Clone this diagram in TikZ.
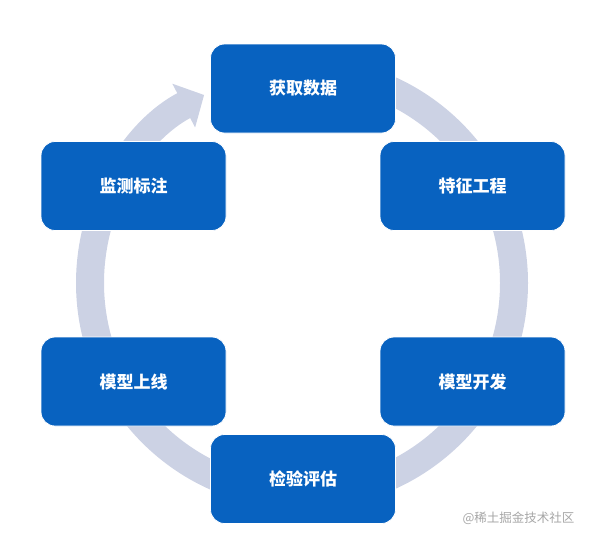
\documentclass[tikz,border=0pt]{standalone}
\usepackage{fontspec}
\usepackage{xcolor}
\usetikzlibrary{arrows.meta,calc}
\newfontfamily\cjk{Noto Sans CJK SC}
\definecolor{boxblue}{HTML}{0862C0}
\definecolor{ringgray}{HTML}{CCD2E4}
\definecolor{markgray}{HTML}{A6A6A6}

\begin{document}
\begin{tikzpicture}[x=1pt,y=-1pt,
    stage/.style={draw=white, line width=0.8pt, fill=boxblue, rounded corners=14pt,
        minimum width=185pt, minimum height=89pt, text=white,
        font=\cjk\bfseries\fontsize{17pt}{20pt}\selectfont},
    ring/.style={ringgray, line width=28pt}]
\useasboundingbox (0,0) rectangle (593,541);
\coordinate (c) at (302,283);

% circular arrow behind the stages
\draw[ring, -{Triangle[width=48pt,length=23pt]}] ($(c)+(-90:212)$) arc[start angle=-90, end angle=242.5, radius=212];

\node[stage] (get) at (303,88.5) {获取数据};
\node[stage] (feat) at (472.5,186) {特征工程};
\node[stage] (dev) at (472.5,381.5) {模型开发};
\node[stage] (eval) at (303,479) {检验评估};
\node[stage] (online) at (133.5,381.5) {模型上线};
\node[stage] (monitor) at (133.5,186) {监测标注};

% watermark
\node[text=markgray, font=\cjk\fontsize{12.5pt}{14pt}\selectfont, anchor=east] (mark) at (578,518) {@稀土掘金技术社区};
\end{tikzpicture}
\end{document}
